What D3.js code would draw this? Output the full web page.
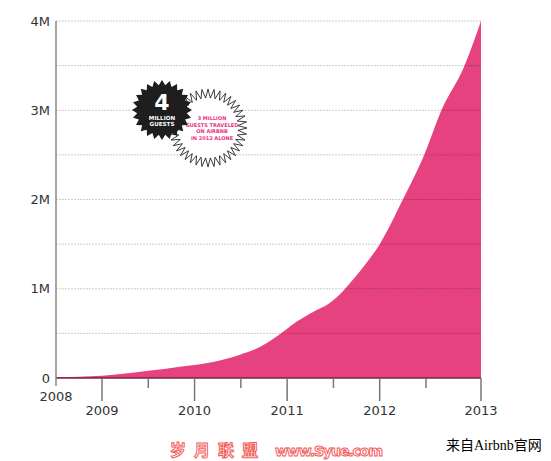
<!DOCTYPE html>
<html>
<head>
<meta charset="utf-8">
<script src="https://cdn.jsdelivr.net/npm/d3@7"></script>
<style>
  body { margin: 0; background: #fff; }
  svg { display: block; }
</style>
</head>
<body>
<div id="chart"></div>
<script>
// guests over time (millions)
const years  = [2008, 2008.5, 2009, 2009.5, 2009.84, 2010.2, 2010.49, 2010.71, 2010.92, 2011.1, 2011.28, 2011.46, 2011.6, 2011.71, 2011.85, 2012, 2012.25, 2012.48, 2012.64, 2012.85, 2013];
const guests = [0.01, 0.015, 0.025, 0.08, 0.127, 0.18, 0.26, 0.35, 0.49, 0.63, 0.74, 0.84, 0.97, 1.10, 1.28, 1.5, 2.0, 2.5, 3.0, 3.5, 4.0];

const yTicks = [0, 1, 2, 3, 4];
const yTickLabels = ["0", "1M", "2M", "3M", "4M"];
const yGrid = [0.5, 1, 1.5, 2, 2.5, 3, 3.5, 4];
const xMajor = [2009, 2010, 2011, 2012, 2013];
const xMinor = [2009.5, 2010.5, 2011.5, 2012.5];

const badgeBig = ["4"];
const badgeSmall = ["MILLION", "GUESTS"];
const calloutLines = ["3 MILLION", "GUESTS TRAVELED", "ON AIRBNB", "IN 2012 ALONE"];

const width = 551, height = 461;
const svg = d3.select("#chart").append("svg")
    .attr("width", width).attr("height", height);

// the time axis in the source is not evenly spaced
const x = d3.scaleLinear()
    .domain([2008, 2009, 2012.5, 2013])
    .range([56, 102, 426, 481]);
const y = d3.scaleLinear().domain([0, 4]).range([378, 21]);

const font = "'DejaVu Sans', sans-serif";

// area
const area = d3.area()
    .x((d, i) => x(years[i]))
    .y0(y(0))
    .y1(d => y(d))
    .curve(d3.curveMonotoneX);

svg.append("path")
    .datum(guests)
    .attr("d", area)
    .attr("fill", "#e64280");

// grid lines over the area
svg.append("g")
  .selectAll("line")
  .data(yGrid)
  .join("line")
    .attr("x1", x(2008)).attr("x2", x(2013))
    .attr("y1", d => y(d)).attr("y2", d => y(d))
    .attr("stroke", "rgba(0,0,0,0.2)")
    .attr("stroke-dasharray", "2,1");

// baseline
svg.append("line")
    .attr("x1", x(2008)).attr("x2", x(2013))
    .attr("y1", y(0)).attr("y2", y(0))
    .attr("stroke", "#7a2547").attr("stroke-width", 1.5);

// y axis
svg.append("line")
    .attr("x1", x(2008)).attr("x2", x(2008))
    .attr("y1", y(4)).attr("y2", 386)
    .attr("stroke", "#888").attr("stroke-width", 1.5);

svg.append("g")
  .selectAll("text")
  .data(yTicks)
  .join("text")
    .attr("x", 50)
    .attr("y", d => y(d))
    .attr("dy", "0.35em")
    .attr("text-anchor", "end")
    .attr("font-family", font)
    .attr("font-size", 13)
    .attr("fill", "#333")
    .text((d, i) => yTickLabels[i]);

// x ticks
svg.append("g")
  .selectAll("line")
  .data(xMajor)
  .join("line")
    .attr("x1", d => x(d)).attr("x2", d => x(d))
    .attr("y1", y(0)).attr("y2", 401)
    .attr("stroke", "#777").attr("stroke-width", 1.5);

svg.append("g")
  .selectAll("line")
  .data(xMinor)
  .join("line")
    .attr("x1", d => x(d)).attr("x2", d => x(d))
    .attr("y1", y(0)).attr("y2", 388)
    .attr("stroke", "#777").attr("stroke-width", 1.5);

svg.append("g")
  .selectAll("text")
  .data(xMajor)
  .join("text")
    .attr("x", d => x(d))
    .attr("y", 415)
    .attr("text-anchor", "middle")
    .attr("font-family", font)
    .attr("font-size", 13)
    .attr("fill", "#333")
    .text(d => d);

svg.append("text")
    .attr("x", x(2008))
    .attr("y", 401)
    .attr("text-anchor", "middle")
    .attr("font-family", font)
    .attr("font-size", 13)
    .attr("fill", "#333")
    .text("2008");

// starburst badges
function starPath(n, rOut, rIn) {
  const pts = d3.range(n * 2).map(i => [i * Math.PI / n, i % 2 ? rIn : rOut]);
  return d3.lineRadial().curve(d3.curveLinearClosed)(pts);
}

const ring = svg.append("g").attr("transform", "translate(208,128)");
ring.append("path")
    .attr("d", starPath(40, 39, 30))
    .attr("fill", "#fff").attr("stroke", "#222").attr("stroke-width", 0.9);
ring.append("g")
  .selectAll("text")
  .data(calloutLines)
  .join("text")
    .attr("x", 4)
    .attr("y", (d, i) => -8 + i * 6.6)
    .attr("text-anchor", "middle")
    .attr("font-family", font)
    .attr("font-weight", "bold")
    .attr("font-size", 5)
    .attr("fill", "#e8337f")
    .text(d => d);

const badge = svg.append("g").attr("transform", "translate(162,110)");
badge.append("path")
    .attr("d", starPath(24, 30, 25))
    .attr("fill", "#1e1e1e");
badge.append("text")
    .attr("y", 0)
    .attr("text-anchor", "middle")
    .attr("font-family", font)
    .attr("font-weight", "bold")
    .attr("font-size", 22)
    .attr("fill", "#fff")
    .text(badgeBig[0]);
badge.append("g")
  .selectAll("text")
  .data(badgeSmall)
  .join("text")
    .attr("y", (d, i) => 9.5 + i * 6)
    .attr("text-anchor", "middle")
    .attr("font-family", font)
    .attr("font-weight", "bold")
    .attr("font-size", 5.6)
    .attr("fill", "#fff")
    .text(d => d);

// footer
svg.append("text")
    .attr("x", 170).attr("y", 456)
    .attr("font-family", "'Noto Sans CJK SC', sans-serif")
    .attr("font-weight", "bold")
    .attr("font-size", 16)
    .attr("fill", "#fff")
    .attr("stroke", "#f25a5a").attr("stroke-width", 1)
    .attr("letter-spacing", 8)
    .text("岁月联盟");

svg.append("text")
    .attr("x", 275).attr("y", 456)
    .attr("font-family", "'DejaVu Sans', sans-serif")
    .attr("font-weight", "bold")
    .attr("font-size", 14)
    .attr("fill", "#fff")
    .attr("stroke", "#f25a5a").attr("stroke-width", 1)
    .attr("textLength", 108)
    .text("www.Syue.com");

svg.append("text")
    .attr("x", 446).attr("y", 450)
    .attr("font-family", "'Liberation Serif', 'Noto Sans CJK SC', serif")
    .attr("font-size", 14)
    .attr("fill", "#000")
    .text("来自Airbnb官网");
</script>
</body>
</html>
